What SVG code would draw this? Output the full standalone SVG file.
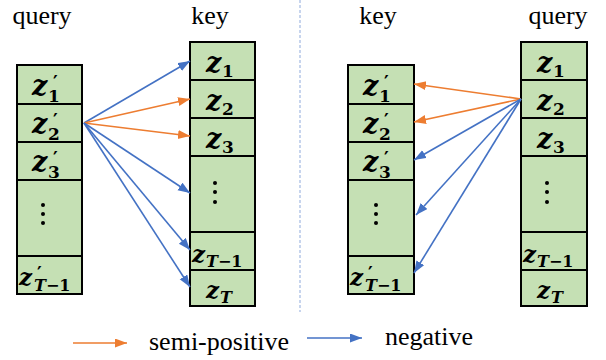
<svg xmlns="http://www.w3.org/2000/svg" width="606" height="360" viewBox="0 0 606 360">
<defs>
<style>
.cell{fill:#C5E0B4;stroke:#000;stroke-width:2}
.lbl{font-family:'Liberation Serif','Times New Roman',Times,serif;font-size:26px;fill:#000}
.z{font-family:'DejaVu Serif',serif;font-weight:bold;font-style:italic;font-size:27px;fill:#000}
.zs{font-family:'DejaVu Serif',serif;font-weight:bold;font-style:italic;font-size:23px;fill:#000}
.sub{font-style:normal;font-size:17px}
.subt{font-style:normal;font-size:16px}
.it{font-style:italic}
.pr{font-style:normal;font-size:18px}
.dot{fill:#000}
.o{stroke:#ED7D31;stroke-width:1.6;fill:none;marker-end:url(#ao)}
.b{stroke:#4472C4;stroke-width:1.6;fill:none;marker-end:url(#ab)}
</style>
<marker id="ao" markerUnits="userSpaceOnUse" markerWidth="13" markerHeight="10" refX="12" refY="4.5" orient="auto"><path d="M0,0 L12,4.5 L0,9 z" fill="#ED7D31"/></marker>
<marker id="ab" markerUnits="userSpaceOnUse" markerWidth="13" markerHeight="10" refX="12" refY="4.5" orient="auto"><path d="M0,0 L12,4.5 L0,9 z" fill="#4472C4"/></marker>
</defs>
<rect width="606" height="360" fill="#fff"/>
<line x1="300" y1="0" x2="300" y2="312" stroke="#8FAADC" stroke-width="1" stroke-dasharray="3,2"/>
<text class="lbl" x="42" y="24" text-anchor="middle">query</text>
<text class="lbl" x="210" y="24" text-anchor="middle">key</text>
<text class="lbl" x="378" y="24" text-anchor="middle">key</text>
<text class="lbl" x="558" y="24" text-anchor="middle">query</text>
<g id="left-query">
<rect class="cell" x="17" y="65" width="65" height="39"/>
<rect class="cell" x="17" y="104" width="65" height="38"/>
<rect class="cell" x="17" y="142" width="65" height="38"/>
<rect class="cell" x="17" y="180" width="65" height="76"/>
<rect class="cell" x="17" y="256" width="65" height="38"/>
<text class="z" x="32" y="95">z<tspan class="pr" x="53" y="89">′</tspan><tspan class="sub" x="48" y="102">1</tspan></text>
<text class="z" x="32" y="133">z<tspan class="pr" x="53" y="127">′</tspan><tspan class="sub" x="48" y="140">2</tspan></text>
<text class="z" x="32" y="171">z<tspan class="pr" x="53" y="165">′</tspan><tspan class="sub" x="48" y="178">3</tspan></text>
<circle class="dot" cx="43" cy="205" r="2"/><circle class="dot" cx="43" cy="214" r="2"/><circle class="dot" cx="43" cy="223" r="2"/>
<text class="zs" x="19" y="285">z<tspan class="pr" x="37" y="280">′</tspan><tspan class="subt" x="34" y="291"><tspan class="it">T</tspan>−1</tspan></text>
</g>
<g id="left-key">
<rect class="cell" x="190" y="42" width="65" height="38"/>
<rect class="cell" x="190" y="80" width="65" height="38"/>
<rect class="cell" x="190" y="118" width="65" height="38"/>
<rect class="cell" x="190" y="156" width="65" height="76"/>
<rect class="cell" x="190" y="232" width="65" height="38"/>
<rect class="cell" x="190" y="270" width="65" height="36"/>
<text class="z" x="206" y="72">z<tspan class="sub" x="222" y="77">1</tspan></text>
<text class="z" x="206" y="110">z<tspan class="sub" x="222" y="115">2</tspan></text>
<text class="z" x="206" y="148">z<tspan class="sub" x="222" y="153">3</tspan></text>
<circle class="dot" cx="215" cy="183" r="2"/><circle class="dot" cx="215" cy="192" r="2"/><circle class="dot" cx="215" cy="202" r="2"/>
<text class="zs" x="192" y="262">z<tspan class="subt" x="206" y="267"><tspan class="it">T</tspan>−1</tspan></text>
<text class="zs" x="206" y="298">z<tspan class="subt it" x="220" y="303">T</tspan></text>
</g>
<g id="right-key">
<rect class="cell" x="348" y="65" width="66" height="39"/>
<rect class="cell" x="348" y="104" width="66" height="38"/>
<rect class="cell" x="348" y="142" width="66" height="38"/>
<rect class="cell" x="348" y="180" width="66" height="76"/>
<rect class="cell" x="348" y="256" width="66" height="38"/>
<text class="z" x="363" y="95">z<tspan class="pr" x="384" y="89">′</tspan><tspan class="sub" x="379" y="102">1</tspan></text>
<text class="z" x="363" y="133">z<tspan class="pr" x="384" y="127">′</tspan><tspan class="sub" x="379" y="140">2</tspan></text>
<text class="z" x="363" y="171">z<tspan class="pr" x="384" y="165">′</tspan><tspan class="sub" x="379" y="178">3</tspan></text>
<circle class="dot" cx="376" cy="205" r="2"/><circle class="dot" cx="376" cy="214" r="2"/><circle class="dot" cx="376" cy="223" r="2"/>
<text class="zs" x="350" y="285">z<tspan class="pr" x="368" y="280">′</tspan><tspan class="subt" x="365" y="291"><tspan class="it">T</tspan>−1</tspan></text>
</g>
<g id="right-query">
<rect class="cell" x="521" y="42" width="66" height="38"/>
<rect class="cell" x="521" y="80" width="66" height="38"/>
<rect class="cell" x="521" y="118" width="66" height="38"/>
<rect class="cell" x="521" y="156" width="66" height="76"/>
<rect class="cell" x="521" y="232" width="66" height="38"/>
<rect class="cell" x="521" y="270" width="66" height="36"/>
<text class="z" x="537" y="72">z<tspan class="sub" x="553" y="77">1</tspan></text>
<text class="z" x="537" y="110">z<tspan class="sub" x="553" y="115">2</tspan></text>
<text class="z" x="537" y="148">z<tspan class="sub" x="553" y="153">3</tspan></text>
<circle class="dot" cx="547" cy="183" r="2"/><circle class="dot" cx="547" cy="192" r="2"/><circle class="dot" cx="547" cy="202" r="2"/>
<text class="zs" x="523" y="262">z<tspan class="subt" x="537" y="267"><tspan class="it">T</tspan>−1</tspan></text>
<text class="zs" x="537" y="298">z<tspan class="subt it" x="551" y="303">T</tspan></text>
</g>
<g id="connectors">
<line class="b" x1="84" y1="123" x2="190" y2="61"/>
<line class="o" x1="84" y1="123" x2="190" y2="99"/>
<line class="o" x1="84" y1="123" x2="190" y2="136"/>
<line class="b" x1="84" y1="123" x2="190" y2="193"/>
<line class="b" x1="84" y1="123" x2="190" y2="250"/>
<line class="b" x1="84" y1="123" x2="190" y2="287"/>
<line class="o" x1="521" y1="99" x2="414" y2="84"/>
<line class="o" x1="521" y1="99" x2="414" y2="122"/>
<line class="b" x1="521" y1="99" x2="414" y2="160"/>
<line class="b" x1="521" y1="99" x2="416" y2="215"/>
<line class="b" x1="521" y1="99" x2="414" y2="273"/>
</g>
<g id="legend">
<line class="o" x1="73" y1="343" x2="127" y2="343"/>
<text class="lbl" x="149" y="350">semi-positive</text>
<line class="b" x1="307" y1="338" x2="362" y2="338"/>
<text class="lbl" x="385" y="345">negative</text>
</g>
</svg>
